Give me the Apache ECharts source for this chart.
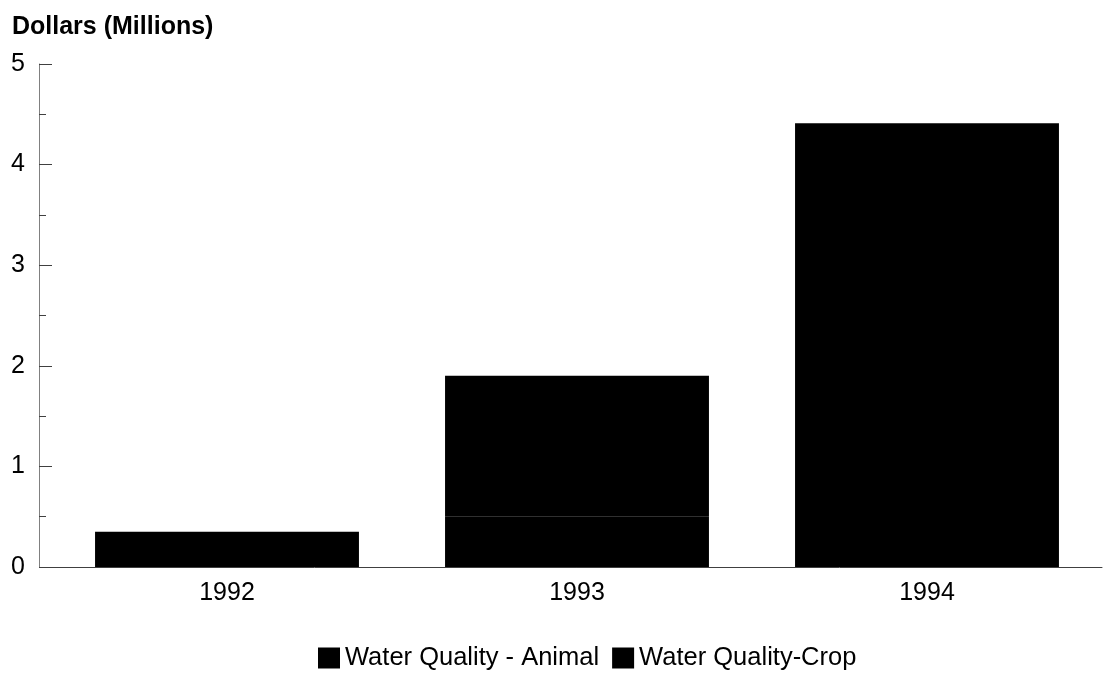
<!DOCTYPE html>
<html>
<head>
<meta charset="utf-8">
<script src="https://cdn.jsdelivr.net/npm/echarts@6/dist/echarts.min.js"></script>
<style>
html,body{margin:0;padding:0;background:#fff;}
#chart{width:1105px;height:673px;}
</style>
</head>
<body>
<div id="chart"></div>
<script>
const categories = ['1992', '1993', '1994'];
const animalValues = [0.15, 0.5, 0];
const cropValues = [0.2, 1.4, 4.41];
const seriesNames = ['Water Quality - Animal', 'Water Quality-Crop'];
const yAxisTitle = 'Dollars (Millions)';

const chart = echarts.init(document.getElementById('chart'), null, {renderer: 'canvas'});
const font = '"Liberation Sans", Arial, sans-serif';
chart.setOption({
  animation: false,
  backgroundColor: '#ffffff',
  textStyle: {fontFamily: font},
  title: {
    text: yAxisTitle,
    left: 7, top: 10,
    textStyle: {fontFamily: font, fontSize: 25, fontWeight: 'bold', color: '#000'}
  },
  legend: {
    data: seriesNames,
    top: 640,
    left: 313,
    icon: 'rect',
    itemWidth: 22, itemHeight: 21,
    itemGap: 13,
    textStyle: {fontFamily: font, fontSize: 25.5, color: '#000'}
  },
  grid: {left: 52, right: 3, top: 64, bottom: 106, containLabel: false},
  xAxis: {
    type: 'category',
    data: categories,
    axisLine: {lineStyle: {color: '#404040', width: 1}},
    axisTick: {show: false},
    axisLabel: {fontFamily: font, fontSize: 25, color: '#000', margin: 14}
  },
  yAxis: {
    type: 'value',
    min: 0, max: 5, interval: 1,
    offset: 13,
    axisLine: {show: true, lineStyle: {color: '#808080', width: 1}},
    axisTick: {show: true, inside: true, length: 13, lineStyle: {color: '#404040'}},
    minorTick: {show: true, splitNumber: 2, length: 7, lineStyle: {color: '#404040'}},
    splitLine: {show: false},
    axisLabel: {fontFamily: font, fontSize: 25, color: '#000', margin: 14, padding: [6, 0, 0, 0]}
  },
  series: [
    {
      name: seriesNames[0], type: 'bar', stack: 'total',
      data: animalValues,
      barCategoryGap: '24.6%',
      itemStyle: {color: '#000000'}
    },
    {
      name: seriesNames[1], type: 'bar', stack: 'total',
      data: cropValues,
      barCategoryGap: '24.6%',
      itemStyle: {color: '#000000'}
    }
  ]
});
</script>
</body>
</html>
